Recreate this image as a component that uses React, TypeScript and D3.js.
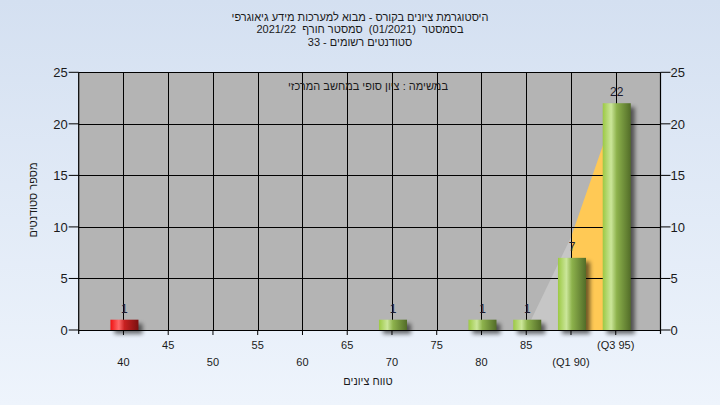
import React from "react";
import * as d3 from "d3";

const titleLines = [
  "היסטוגרמת ציונים בקורס - מבוא למערכות מידע גיאוגרפי",
  "בסמסטר  (01/2021)  סמסטר חורף  2021/22",
  "סטודנטים רשומים - 33",
];
const subTitle = "במשימה : ציון סופי במחשב המרכזי";
const yTitle = "מספר סטודנטים";
const xTitle = "טווח ציונים";

const barGrades = [40, 70, 80, 85, 90, 95];
const barCounts = [1, 1, 1, 1, 7, 22];
const barFail = [true, false, false, false, false, false];

const xTicks = [40, 45, 50, 55, 60, 65, 70, 75, 80, 85, 90, 95];
const xTickLabels = ["40", "45", "50", "55", "60", "65", "70", "75", "80", "85", "(Q1 90)", "(Q3 95)"];
const yTicks = [0, 5, 10, 15, 20, 25];

const areaGrades = [85, 90, 95];
const areaValues = [0, 9, 21.5];

const W = 720;
const H = 405;
const plot = { left: 78.7, right: 660.5, top: 72.3, bottom: 330 };
const FONT = "'Liberation Sans', Arial, sans-serif";

export default function App() {
  const x = d3.scaleLinear().domain([35, 100]).range([plot.left, plot.right]);
  const y = d3.scaleLinear().domain([0, 25]).range([plot.bottom, plot.top]);
  const barW = x(3.13) - x(0);

  const area = d3
    .area<[number, number]>()
    .x((d) => x(d[0]))
    .y0(y(0))
    .y1((d) => y(d[1]));
  const pts: [number, number][] = areaGrades.map((g, i) => [g, areaValues[i]]);

  return (
    <svg
      width={W}
      height={H}
      style={{ position: "fixed", left: 0, top: 0, fontFamily: FONT }}
    >
      <defs>
        <linearGradient id="bg" x1="0" y1="0" x2="0" y2="1">
          <stop offset="0" stopColor="#d4e0f1" />
          <stop offset="1" stopColor="#eef4fc" />
        </linearGradient>
        <linearGradient id="green" x1="0" y1="0" x2="1" y2="0">
          <stop offset="0" stopColor="#9cc944" />
          <stop offset="0.3" stopColor="#cbe69a" />
          <stop offset="0.5" stopColor="#8db24c" />
          <stop offset="1" stopColor="#526c28" />
        </linearGradient>
        <linearGradient id="red" x1="0" y1="0" x2="1" y2="0">
          <stop offset="0" stopColor="#f01010" />
          <stop offset="0.3" stopColor="#ff6a6a" />
          <stop offset="0.5" stopColor="#c82020" />
          <stop offset="1" stopColor="#7a1010" />
        </linearGradient>
        <filter id="shadow" x="-50%" y="-50%" width="200%" height="200%">
          <feGaussianBlur stdDeviation="2" />
        </filter>
      </defs>
      <rect x={0} y={0} width={W} height={H} fill="url(#bg)" />
      <rect
        x={plot.left}
        y={plot.top}
        width={plot.right - plot.left}
        height={plot.bottom - plot.top}
        fill="#b4b4b4"
      />
      {/* area */}
      <path d={area(pts.slice(0, 2)) || ""} fill="#c6c6c6" />
      <path d={area(pts.slice(1, 3)) || ""} fill="#ffc955" />

      {/* grid */}
      {xTicks.map((t) => (
        <line
          key={"gx" + t}
          x1={Math.round(x(t)) + 0.5}
          x2={Math.round(x(t)) + 0.5}
          y1={plot.top}
          y2={plot.bottom}
          stroke="#000"
          strokeWidth={1}
        />
      ))}
      {yTicks.slice(1).map((t) => (
        <line
          key={"gy" + t}
          x1={plot.left}
          x2={plot.right}
          y1={Math.round(y(t)) + 0.5}
          y2={Math.round(y(t)) + 0.5}
          stroke="#000"
          strokeWidth={1}
        />
      ))}

      {/* bars */}
      {barGrades.map((g, i) => {
        const bx = x(g) - barW / 2 + 1;
        const by = y(barCounts[i]);
        const bh = y(0) - by;
        return (
          <g key={"b" + g}>
            <rect
              x={bx + 4}
              y={by + 4}
              width={barW}
              height={bh}
              fill="#000"
              opacity={0.55}
              filter="url(#shadow)"
            />
            <rect
              x={bx}
              y={by}
              width={barW}
              height={bh}
              fill={barFail[i] ? "url(#red)" : "url(#green)"}
            />
            <text
              x={x(g) + 1}
              y={by - 7}
              textAnchor="middle"
              fontSize={12}
              fill="#1c1c30"
            >
              {barCounts[i]}
            </text>
          </g>
        );
      })}

      {/* axes */}
      <line x1={plot.left} x2={plot.right} y1={plot.bottom + 0.5} y2={plot.bottom + 0.5} stroke="#000" />
      <line x1={plot.left} x2={plot.left} y1={plot.top} y2={plot.bottom + 4} stroke="#000" strokeWidth={1.2} />
      <line x1={plot.right} x2={plot.right} y1={plot.top} y2={plot.bottom + 4} stroke="#000" strokeWidth={1.2} />
      {yTicks.map((t) => (
        <g key={"yt" + t}>
          <line x1={plot.left - 10} x2={plot.left} y1={y(t)} y2={y(t)} stroke="#000" />
          <line x1={plot.right} x2={plot.right + 10} y1={y(t)} y2={y(t)} stroke="#000" />
          <text x={plot.left - 11} y={y(t) + 5} textAnchor="end" fontSize={13} fill="#1a1a1a">
            {t}
          </text>
          <text x={plot.right + 10} y={y(t) + 5} textAnchor="start" fontSize={13} fill="#1a1a1a">
            {t}
          </text>
        </g>
      ))}
      {xTicks.map((t, i) => (
        <g key={"xt" + t}>
          <line x1={x(t)} x2={x(t)} y1={plot.bottom} y2={plot.bottom + 5} stroke="#000" />
          <text
            x={x(t)}
            y={i % 2 === 0 ? 366 : 349}
            textAnchor="middle"
            fontSize={11}
            fill="#1a1a1a"
            direction="ltr"
          >
            {xTickLabels[i]}
          </text>
        </g>
      ))}

      {/* titles */}
      {titleLines.map((l, i) => (
        <text
          key={"t" + i}
          x={360}
          y={21 + i * 12.3}
          textAnchor="middle"
          fontSize={11}
          fill="#1a1a1a"
          direction="rtl"
          style={{ whiteSpace: "pre" }}
        >
          {l}
        </text>
      ))}
      <text x={368} y={90} textAnchor="middle" fontSize={11} fill="#1a1a1a" direction="rtl">
        {subTitle}
      </text>
      <text
        transform={`translate(37,${200}) rotate(-90)`}
        textAnchor="middle"
        fontSize={11}
        fill="#1a1a1a"
        direction="rtl"
      >
        {yTitle}
      </text>
      <text x={368} y={385} textAnchor="middle" fontSize={11} fill="#1a1a1a" direction="rtl">
        {xTitle}
      </text>
    </svg>
  );
}
